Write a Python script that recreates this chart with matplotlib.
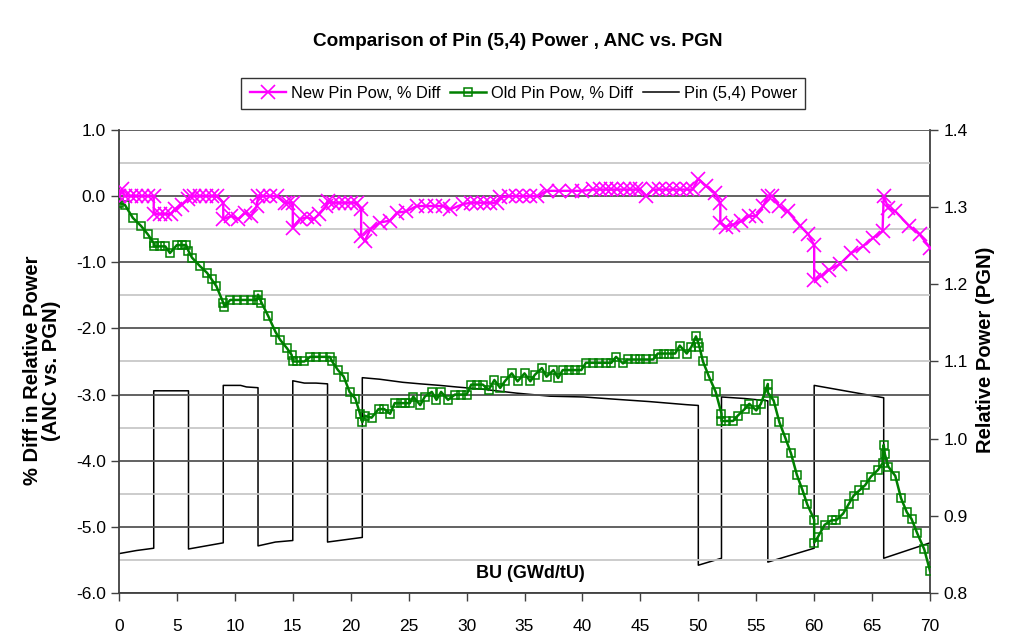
import matplotlib
matplotlib.use('Agg')
import matplotlib.pyplot as plt

plt.rcParams['font.family'] = ['Liberation Sans', 'DejaVu Sans']

# burnup (GWd/tU) and % diff, new pin power calc
new_bu = [0.0, 0.25, 0.5, 1.0, 1.5, 2.0, 2.5, 3.0, 3.0, 3.5, 4.0, 4.5, 4.8, 5.4, 6.0, 6.1, 6.5, 7.0, 7.5, 8.0,
          8.5, 9.0, 9.0, 9.7, 10.3, 10.9, 11.4, 11.9, 12.0, 12.4, 13.0, 13.6, 14.3, 14.6, 15.0, 15.0, 15.6, 16.2,
          16.8, 17.3, 17.9, 18.0, 18.5, 19.0, 19.5, 20.0, 20.5, 20.9, 20.9, 21.2, 21.7, 22.5, 23.4, 24.0, 24.8,
          25.7, 26.5, 27.3, 28.0, 28.6, 29.7, 30.4, 30.9, 31.5, 32.0, 32.6, 32.9, 33.7, 34.3, 34.9, 35.5, 36.1,
          36.9, 38.0, 39.1, 40.0, 40.9, 41.5, 42.0, 42.5, 43.0, 43.6, 44.1, 44.6, 45.0, 45.5, 46.1, 46.6, 47.2,
          47.8, 48.4, 49.0, 49.5, 50.0, 50.7, 51.4, 51.9, 51.9, 52.4, 53.0, 53.7, 54.4, 55.0, 55.6, 56.0, 56.4,
          57.0, 57.7, 58.8, 59.5, 60.0, 60.0, 60.6, 61.3, 62.2, 63.2, 64.2, 65.1, 65.9, 66.0, 66.4, 67.0, 68.2,
          69.1, 70.0]
new_diff = [0.0, 0.1, 0.0, 0.0, 0.0, 0.0, 0.0, 0.0, -0.27, -0.27, -0.27, -0.27, -0.2, -0.13, -0.05, 0.0, 0.0,
            0.0, 0.0, 0.0, 0.0, -0.1, -0.35, -0.3, -0.35, -0.25, -0.3, -0.15, 0.0, 0.0, 0.0, 0.0, -0.1, -0.1,
            -0.1, -0.48, -0.35, -0.32, -0.35, -0.27, -0.15, -0.07, -0.1, -0.1, -0.1, -0.1, -0.1, -0.2, -0.6,
            -0.68, -0.5, -0.4, -0.37, -0.25, -0.23, -0.15, -0.15, -0.15, -0.15, -0.2, -0.12, -0.1, -0.1, -0.1,
            -0.1, -0.1, -0.02, 0.0, 0.0, 0.0, 0.0, 0.0, 0.08, 0.08, 0.08, 0.08, 0.1, 0.1, 0.1, 0.1, 0.1, 0.1,
            0.1, 0.1, 0.1, 0.0, 0.1, 0.1, 0.1, 0.1, 0.1, 0.1, 0.1, 0.26, 0.15, 0.05, -0.1, -0.4, -0.46, -0.43,
            -0.38, -0.3, -0.3, -0.15, 0.0, 0.0, -0.15, -0.23, -0.45, -0.58, -0.74, -1.27, -1.21, -1.11, -1.03,
            -0.86, -0.76, -0.63, -0.53, 0.0, -0.18, -0.23, -0.45, -0.58, -0.78]

# old pin power calc
old_bu = [0.0, 0.5, 1.2, 1.9, 2.5, 3.0, 3.0, 3.5, 4.0, 4.4, 5.0, 5.4, 5.8, 6.0, 6.3, 7.0, 7.6, 8.0, 8.4, 9.0,
          9.1, 9.6, 10.2, 10.8, 11.4, 11.9, 12.0, 12.3, 12.9, 13.5, 13.9, 14.5, 14.9, 15.0, 15.4, 16.0, 16.5,
          17.0, 17.6, 18.2, 18.4, 18.9, 19.4, 19.9, 20.4, 20.8, 21.0, 21.2, 21.8, 22.4, 22.9, 23.4, 23.8, 24.3,
          24.7, 25.1, 25.4, 26.0, 26.4, 27.0, 27.4, 27.8, 28.4, 29.0, 29.5, 30.0, 30.4, 30.9, 31.4, 31.9, 32.4,
          32.9, 33.3, 33.9, 34.4, 35.0, 35.5, 35.9, 36.5, 36.9, 37.5, 37.9, 38.3, 38.8, 39.4, 39.9, 40.3, 40.9,
          41.4, 42.0, 42.5, 42.9, 43.5, 43.9, 44.5, 45.0, 45.5, 46.1, 46.5, 47.0, 47.5, 48.0, 48.4, 49.0, 49.4,
          49.8, 50.0, 50.1, 50.4, 50.9, 51.5, 52.0, 52.0, 52.4, 53.0, 53.4, 54.0, 54.4, 55.0, 55.4, 56.0, 56.0,
          56.5, 57.0, 57.5, 58.0, 58.5, 59.0, 59.4, 60.0, 60.0, 60.3, 60.9, 61.5, 61.9, 62.5, 63.0, 63.4, 63.9,
          64.4, 64.9, 65.5, 65.9, 66.0, 66.1, 66.4, 67.0, 67.5, 68.0, 68.4, 68.9, 69.5, 70.0]
old_diff = [-0.1, -0.13, -0.33, -0.45, -0.58, -0.71, -0.76, -0.76, -0.76, -0.86, -0.74, -0.74, -0.74, -0.83,
            -0.93, -1.06, -1.16, -1.26, -1.36, -1.61, -1.67, -1.57, -1.57, -1.57, -1.57, -1.57, -1.49, -1.61,
            -1.82, -2.05, -2.17, -2.3, -2.4, -2.5, -2.5, -2.5, -2.43, -2.43, -2.43, -2.43, -2.5, -2.63, -2.73,
            -2.96, -3.06, -3.29, -3.42, -3.32, -3.35, -3.22, -3.22, -3.29, -3.13, -3.13, -3.13, -3.13, -3.03,
            -3.16, -3.03, -2.96, -3.08, -2.96, -3.08, -3.0, -3.0, -3.0, -2.85, -2.85, -2.85, -2.93, -2.78, -2.9,
            -2.8, -2.68, -2.8, -2.68, -2.8, -2.7, -2.6, -2.73, -2.63, -2.75, -2.63, -2.63, -2.63, -2.63, -2.52,
            -2.52, -2.52, -2.52, -2.52, -2.43, -2.53, -2.47, -2.47, -2.47, -2.47, -2.47, -2.38, -2.38, -2.38,
            -2.38, -2.26, -2.38, -2.28, -2.12, -2.22, -2.28, -2.5, -2.72, -2.96, -3.29, -3.4, -3.4, -3.4, -3.32,
            -3.22, -3.14, -3.24, -3.14, -2.84, -2.97, -3.09, -3.42, -3.65, -3.89, -4.21, -4.45, -4.66, -4.89,
            -5.24, -5.16, -4.97, -4.9, -4.9, -4.8, -4.65, -4.53, -4.45, -4.37, -4.24, -4.14, -4.04, -3.76, -3.9,
            -4.09, -4.23, -4.57, -4.78, -4.88, -5.1, -5.34, -5.67]

# pin (5,4) relative power from PGN
pin_bu = [0.0, 1.5, 3.0, 3.0, 4.5, 6.0, 6.0, 7.5, 9.0, 9.0, 10.5, 11.0, 12.0, 12.0, 13.5, 15.0, 15.0, 16.0,
          17.0, 18.0, 18.0, 19.5, 21.0, 21.0, 22.5, 24.5, 26.0, 27.7, 29.1, 31.4, 34.3, 37.2, 40.1, 42.9, 45.8,
          49.0, 50.0, 50.0, 52.0, 52.0, 54.0, 56.0, 56.0, 58.0, 60.0, 60.0, 63.0, 66.0, 66.0, 68.0, 70.0]
pin_pow = [0.851, 0.855, 0.858, 1.062, 1.062, 1.062, 0.857, 0.861, 0.865, 1.069, 1.069, 1.067, 1.066, 0.861,
           0.866, 0.868, 1.075, 1.072, 1.072, 1.071, 0.866, 0.869, 0.872, 1.079, 1.077, 1.073, 1.071, 1.069,
           1.067, 1.064, 1.059, 1.055, 1.054, 1.051, 1.048, 1.044, 1.043, 0.836, 0.845, 1.054, 1.052, 1.049,
           0.840, 0.849, 0.858, 1.069, 1.061, 1.053, 0.845, 0.855, 0.865]

left_ticks = [-6.0, -5.0, -4.0, -3.0, -2.0, -1.0, 0.0, 1.0]
right_ticks = [0.8, 0.9, 1.0, 1.1, 1.2, 1.3, 1.4]
x_ticks = list(range(0, 71, 5))

fig = plt.figure(figsize=(10.16, 6.34), dpi=100)
ax = fig.add_axes([0.1171, 0.0647, 0.7983, 0.7303])
ax2 = ax.twinx()

# grid: light lines at the halves, darker ones at whole percent
for v in left_ticks:
    ax.axhline(v, color='#555555', lw=1.3, zorder=1)
for v in left_ticks[:-1]:
    ax.axhline(v + 0.5, color='#c8c8c8', lw=1.3, zorder=1)

l3, = ax2.plot(pin_bu, pin_pow, color='black', lw=1.1, label='Pin (5,4) Power')
l1, = ax.plot(new_bu, new_diff, color='#ff00ff', lw=1.7, marker='x', ms=9.5, mew=1.2,
              label='New Pin Pow, % Diff', zorder=4)
l2, = ax.plot(old_bu, old_diff, color='#008000', lw=1.8, marker='s', ms=5.2, mfc='none', mew=1.1,
              label='Old Pin Pow, % Diff', zorder=3)

ax.set_zorder(ax2.get_zorder() + 1)
ax.patch.set_visible(False)

ax.set_xlim(0, 70)
ax.set_ylim(-6, 1)
ax2.set_ylim(0.8, 1.4)
ax.set_xticks(x_ticks)
ax.set_yticks(left_ticks)
ax.set_yticklabels(['%.1f' % v for v in left_ticks])
ax2.set_yticks(right_ticks)
ax2.set_yticklabels(['%.1f' % v for v in right_ticks])

for a in (ax, ax2):
    for s in a.spines.values():
        s.set_visible(False)
ax.spines['left'].set_visible(True)
ax.spines['bottom'].set_visible(True)
ax2.spines['right'].set_visible(True)
for s in (ax.spines['left'], ax.spines['bottom'], ax2.spines['right']):
    s.set_color('#404040')
    s.set_linewidth(1.3)

ax.tick_params(axis='both', direction='out', length=6, width=1, labelsize=12.5, color='#404040')
ax.tick_params(axis='x', pad=13)
ax2.tick_params(axis='y', direction='out', length=6, width=1, labelsize=12.5, color='#404040')

ax.set_ylabel('% Diff in Relative Power\n(ANC vs. PGN)', fontsize=14.5, fontweight='bold',
              linespacing=1.0)
ax.yaxis.set_label_coords(-0.072, 0.48)
ax2.set_ylabel('Relative Power (PGN)', fontsize=14.5, fontweight='bold')
ax2.yaxis.set_label_coords(1.057, 0.525)
ax.text(0.507, 0.041, 'BU (GWd/tU)', transform=ax.transAxes, ha='center', va='center',
        fontsize=13, fontweight='bold')

fig.text(0.51, 0.934, 'Comparison of Pin (5,4) Power , ANC vs. PGN', ha='center', va='center',
         fontsize=13.7, fontweight='bold')

leg = fig.legend([l1, l2, l3], [l1.get_label(), l2.get_label(), l3.get_label()],
                 loc='center', bbox_to_anchor=(0.515, 0.8525), ncol=3, fontsize=11.8,
                 frameon=True, fancybox=False, handlelength=2.2, handletextpad=0.3,
                 columnspacing=0.6, borderpad=0.5)
leg.get_frame().set_edgecolor('black')
leg.get_frame().set_linewidth(1.0)

fig.savefig('out.png', dpi=100)
